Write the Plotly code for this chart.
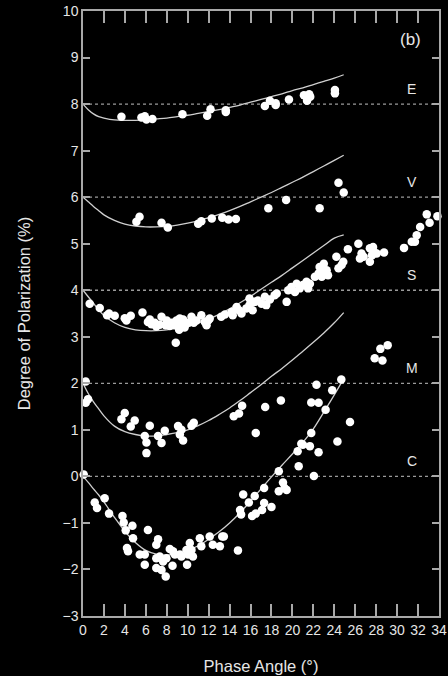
import plotly.graph_objects as go

# ---------------- data ----------------
CURVE_X = [0, 0.5, 1, 1.5, 2, 3, 4, 5, 6, 7, 8, 9, 10, 11, 12, 13, 14, 15, 16, 17,
           18, 19, 20, 21, 22, 23, 24, 24.9]
E_CURVE = [8.0, 7.88, 7.79, 7.73, 7.7, 7.66, 7.65, 7.65, 7.66, 7.68, 7.70, 7.73, 7.76, 7.80,
           7.84, 7.88, 7.93, 7.98, 8.04, 8.10, 8.16, 8.22, 8.29, 8.35, 8.42, 8.49, 8.56, 8.63]
V_CURVE = [6.0, 5.9, 5.8, 5.71, 5.62, 5.5, 5.42, 5.38, 5.36, 5.36, 5.37, 5.40, 5.44, 5.49,
           5.56, 5.63, 5.71, 5.80, 5.9, 6.0, 6.1, 6.21, 6.32, 6.43, 6.55, 6.67, 6.79, 6.9]
S_CURVE = [4.0, 3.86, 3.72, 3.58, 3.46, 3.3, 3.2, 3.15, 3.13, 3.13, 3.15, 3.19, 3.24, 3.3,
           3.38, 3.48, 3.6, 3.73, 3.87, 4.02, 4.17, 4.32, 4.48, 4.64, 4.8, 4.96, 5.12, 5.19]
M_CURVE = [2.0, 1.78, 1.6, 1.45, 1.3, 1.08, 0.96, 0.9, 0.87, 0.87, 0.9, 0.94, 1.0, 1.09,
           1.2, 1.33, 1.47, 1.63, 1.8, 1.97, 2.15, 2.32, 2.5, 2.69, 2.88, 3.08, 3.3, 3.52]
C_CURVE = [0.0, -0.13, -0.27, -0.4, -0.55, -0.88, -1.18, -1.42, -1.59, -1.67, -1.69, -1.66,
           -1.59, -1.49, -1.35, -1.19, -1.0, -0.78, -0.53, -0.27, -0.01, 0.24, 0.48, 0.73,
           1.02, 1.38, 1.75, 2.1]

E_X = [3.67, 5.58, 5.9, 6.06, 6.63, 9.5, 11.86, 12.18, 13.64, 13.64, 17.37, 17.85, 18.4,
       18.4, 19.67, 21.1, 21.6, 21.4, 21.7, 24.06, 24.06]
E_Y = [7.73, 7.71, 7.74, 7.67, 7.68, 7.78, 7.75, 7.89, 7.87, 7.83, 7.96, 8.07, 8.02,
       7.98, 8.10, 8.19, 8.21, 8.07, 8.16, 8.30, 8.23]

V_X = [5.1, 5.4, 7.5, 8.1, 11.0, 11.3, 12.3, 13.3, 13.9, 14.6, 17.7, 19.4, 22.6, 24.4, 24.9]
V_Y = [5.47, 5.58, 5.45, 5.35, 5.43, 5.48, 5.54, 5.56, 5.52, 5.53, 5.76, 5.94, 5.76, 6.31, 6.10]

S_X = [0.64, 1.6, 2.3, 2.49, 3.03, 3.99, 4.15, 4.56, 5.68, 6.2, 6.54, 6.38, 6.85, 7.33, 7.5,
       7.9, 8.29, 8.86, 8.93, 9.24, 8.77, 9.08, 9.18, 9.56, 9.82, 10.36, 10.58, 10.84, 11.3,
       11.64, 11.95, 11.8, 12.1, 13.2, 13.55, 14.2, 14.3, 14.67, 14.9, 15.14, 15.6, 15.9,
       16.2, 15.9, 16.4, 16.7, 17.05, 17.37, 17.85, 17.5, 18.3, 18.5, 19.45, 19.6, 19.9,
       20.24, 20.4, 20.7, 21.0, 21.35, 21.5, 21.67, 22.15, 22.5, 22.8, 22.6, 23.0, 23.1,
       23.27, 22.9, 23.4, 24.2, 24.4, 24.7, 24.86, 25.3, 26.3, 26.6, 26.45, 26.8, 27.4,
       27.7, 27.6, 27.9, 27.4, 28.05, 28.75, 30.66, 31.4, 31.7, 31.87, 32.2, 32.83, 33.1,
       33.85, 7.0, 8.0, 9.7, 10.1, 8.5]
S_Y = [3.71, 3.62, 3.46, 3.50, 3.45, 3.40, 3.35, 3.45, 3.52, 3.32, 3.27, 3.37, 3.30, 3.26,
       3.43, 3.25, 3.23, 2.87, 3.35, 3.39, 3.25, 3.28, 3.15, 3.37, 3.27, 3.43, 3.30, 3.35,
       3.46, 3.32, 3.35, 3.25, 3.39, 3.43, 3.48, 3.53, 3.46, 3.64, 3.57, 3.50, 3.61, 3.68,
       3.57, 3.82, 3.75, 3.78, 3.71, 3.86, 3.80, 3.68, 3.89, 3.93, 3.75, 4.0, 4.07, 3.96,
       4.14, 4.04, 4.11, 4.18, 4.04, 4.14, 4.29, 4.36, 4.29, 4.50, 4.57, 4.39, 4.43, 4.39,
       4.32, 4.72, 4.47, 4.54, 4.61, 4.88, 5.0, 4.79, 4.68, 4.72, 4.90, 4.93, 4.75, 4.80,
       4.61, 4.79, 4.81, 4.91, 5.04, 5.04, 5.18, 5.36, 5.63, 5.45, 5.59, 3.22, 3.35, 3.2,
       3.3, 3.3]

M_X = [0.26, 0.26, 0.48, 3.67, 3.99, 4.56, 4.94, 5.9, 6.06, 6.06, 6.38, 7.17, 7.5, 7.81,
       9.08, 9.4, 9.25, 9.56, 10.36, 10.58, 14.4, 14.9, 15.2, 16.5, 17.4, 18.9, 21.8, 22.5,
       22.3, 23.8, 24.67, 25.5, 27.86, 28.6, 28.4, 29.1]
M_Y = [2.04, 1.58, 1.66, 1.23, 1.36, 1.07, 1.20, 0.87, 0.73, 0.50, 1.09, 0.87, 0.72, 0.98,
       1.08, 1.0, 0.9, 0.77, 1.09, 1.15, 1.29, 1.35, 1.52, 0.93, 1.49, 1.63, 1.59, 1.58,
       1.97, 1.85, 2.08, 1.17, 2.54, 2.49, 2.74, 2.82]

C_X = [0.07, 1.12, 1.34, 2.07, 2.49, 3.77, 3.89, 4.08, 4.72, 4.78, 4.2, 4.3, 5.42, 5.9, 5.9,
       6.2, 7.0, 7.17, 7.0, 7.33, 7.0, 7.5, 7.9, 7.65, 7.97, 8.29, 8.6, 8.77, 8.55, 9.25,
       9.4, 9.88, 10.04, 10.2, 9.94, 10.36, 10.5, 11.16, 11.3, 12.1, 12.4, 13.07, 13.3,
       13.45, 14.8, 15.0, 15.1, 15.3, 15.84, 16.15, 16.5, 16.4, 17.1, 17.3, 17.3, 18.0,
       18.7, 18.7, 19.1, 19.25, 19.45, 20.5, 20.6, 20.85, 21.0, 21.67, 21.8, 22.05, 22.5,
       23.17, 24.3]
C_Y = [0.04, -0.56, -0.68, -0.47, -0.80, -0.85, -0.99, -1.16, -1.06, -1.33, -1.54, -1.61,
       -1.68, -1.68, -1.9, -1.15, -1.47, -1.35, -1.76, -1.72, -1.97, -2.01, -2.15, -1.83,
       -1.76, -1.56, -1.61, -1.68, -1.92, -1.68, -1.72, -1.58, -1.68, -1.43, -1.9, -1.58,
       -1.72, -1.33, -1.5, -1.29, -1.47, -1.5, -1.29, -1.29, -1.59, -0.72, -0.82, -0.39,
       -0.56, -0.85, -0.8, -0.42, -0.72, -0.57, -0.25, -0.66, 0.11, -0.32, -0.13, -0.25,
       -0.29, 0.54, 0.22, 0.70, 0.68, 0.65, 0.93, 0.01, 0.52, 1.43, 0.75]

BASELINES = [8, 6, 4, 2, 0]
BAND_LABELS = ["E", "V", "S", "M", "C"]
X_TICKS = list(range(0, 35, 2))
Y_TICKS = list(range(-3, 11))

# ---------------- figure ----------------
FONT = "Liberation Sans, Arial, Helvetica, sans-serif"
AXIS_COLOR = "#a8a8a8"
TEXT_COLOR = "#e6e6e6"

fig = go.Figure()

for b in BASELINES:
    fig.add_trace(go.Scatter(x=[0, 34], y=[b, b], mode="lines",
                             line=dict(color="#9a9a9a", width=1.3, dash="dot"),
                             hoverinfo="skip", showlegend=False))

for cy in [E_CURVE, V_CURVE, S_CURVE, M_CURVE, C_CURVE]:
    fig.add_trace(go.Scatter(x=CURVE_X, y=cy, mode="lines",
                             line=dict(color="#cfcfcf", width=1.3, shape="spline"),
                             showlegend=False))

for xs, ys in [(E_X, E_Y), (V_X, V_Y), (S_X, S_Y), (M_X, M_Y), (C_X, C_Y)]:
    fig.add_trace(go.Scatter(x=xs, y=ys, mode="markers",
                             marker=dict(color="white", size=8.5, line=dict(width=0)),
                             showlegend=False, cliponaxis=False))

for b, lab in zip(BASELINES, BAND_LABELS):
    fig.add_annotation(x=31.4, y=b + 0.32, text=lab, showarrow=False,
                       font=dict(family=FONT, size=14, color=TEXT_COLOR))

fig.add_annotation(x=31.3, y=9.38, text="(b)", showarrow=False,
                   font=dict(family=FONT, size=17, color=TEXT_COLOR))

fig.update_layout(
    width=448, height=676,
    margin=dict(l=83, r=9, t=11, b=60),
    paper_bgcolor="black", plot_bgcolor="black",
    font=dict(family=FONT, color=TEXT_COLOR),
    xaxis=dict(range=[0, 34], tickvals=X_TICKS, ticks="inside", ticklen=12,
               tickcolor=AXIS_COLOR, tickwidth=1.5, showline=True, linecolor=AXIS_COLOR,
               linewidth=1.5, mirror="ticks", showgrid=False, zeroline=False,
               automargin=False,
               tickfont=dict(size=14, color=TEXT_COLOR),
               title=dict(text="Phase Angle (°)", font=dict(size=16.5, color=TEXT_COLOR),
                          standoff=24)),
    yaxis=dict(range=[-3, 10], tickvals=Y_TICKS, ticks="inside", ticklen=7,
               tickcolor=AXIS_COLOR, tickwidth=1.5, showline=True, linecolor=AXIS_COLOR,
               linewidth=1.5, mirror="ticks", showgrid=False, zeroline=False,
               automargin=False,
               tickfont=dict(size=14, color=TEXT_COLOR),
               title=dict(text="Degree of Polarization (%)",
                          font=dict(size=16.5, color=TEXT_COLOR), standoff=28)),
)

fig.write_html("out.html")
